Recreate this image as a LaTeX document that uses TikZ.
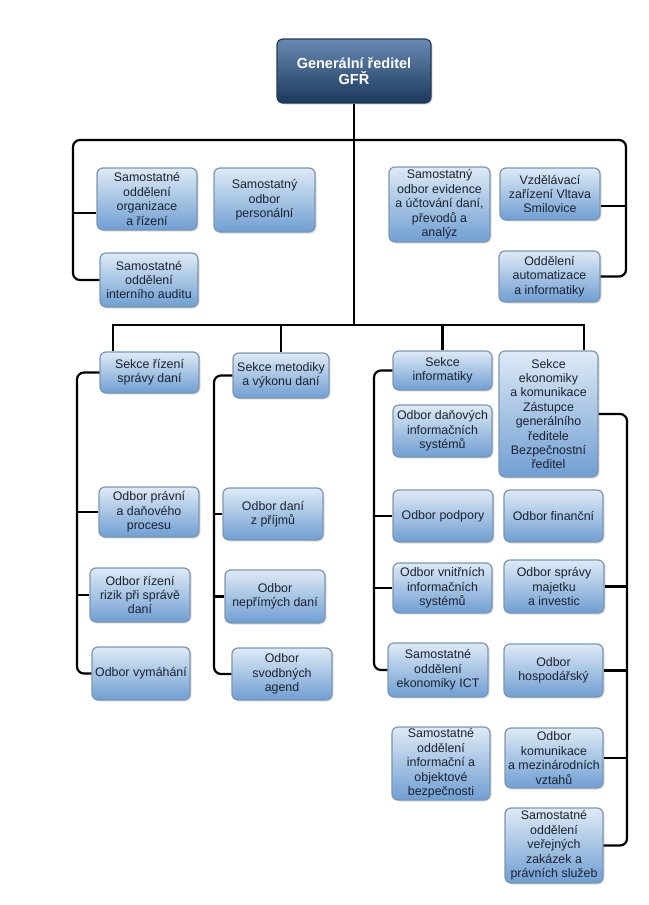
\documentclass[tikz,border=0pt]{standalone}
\usepackage{fontspec}
\setmainfont{Liberation Sans}
\usetikzlibrary{shadows}

\definecolor{boxtop}{RGB}{222,234,246}
\definecolor{boxbot}{RGB}{112,158,210}
\definecolor{boxline}{RGB}{125,150,176}
\definecolor{boxtext}{RGB}{26,34,50}
\definecolor{headtop}{RGB}{104,138,178}
\definecolor{headbot}{RGB}{28,56,92}
\definecolor{headline}{RGB}{36,58,88}

\tikzset{every picture/.style={line width=0.75pt}}
\tikzset{
  unit/.style={draw=boxline, line width=1.2pt, rounded corners=6pt,
    top color=boxtop, bottom color=boxbot, text=boxtext, align=center,
    inner sep=1pt, font=\fontsize{12.4}{14.4}\selectfont,
    drop shadow={shadow xshift=1.5pt, shadow yshift=-1.5pt, opacity=0.25}},
  head/.style={unit, draw=headline, top color=headtop, bottom color=headbot,
    text=white, font=\fontsize{14.5}{16.5}\selectfont\bfseries},
  sz/.style 2 args={minimum width=#1pt, minimum height=#2pt},
  link/.style={draw=black, line width=2.2pt, rounded corners=7pt}
}

\begin{document}
\begin{tikzpicture}[x=1pt,y=1pt,yscale=-1,xscale=1]
\useasboundingbox (0,0) rectangle (648,905);

% Director
\node [head, sz={154}{64}] (gfr) at (354,71) {Generální ředitel\\GFŘ};

% Units under the director
\node [unit, sz={100}{62}] (org) at (147,199) {Samostatné\\oddělení\\organizace\\a řízení};
\node [unit, sz={101}{64}] (pers) at (264.5,200) {Samostatný\\odbor\\personální};
\node [unit, sz={98}{54}] (audit) at (149,280) {Samostatné\\oddělení\\interního auditu};
\node [unit, sz={101}{75}] (evid) at (439.5,204.5) {Samostatný\\odbor evidence\\a účtování daní,\\převodů a\\analýz};
\node [unit, sz={100}{52}] (vzdel) at (550,194) {Vzdělávací\\zařízení Vltava\\Smilovice};
\node [unit, sz={101}{51}] (autom) at (549.5,276.5) {Oddělení\\automatizace\\a informatiky};

% Sections
\node [unit, sz={99}{41}] (sdane) at (149.5,372.5) {Sekce řízení\\správy daní};
\node [unit, sz={96}{45}] (smet) at (281,375.5) {Sekce metodiky\\a výkonu daní};
\node [unit, sz={99}{39}] (sinf) at (442.5,370.5) {Sekce\\informatiky};
\node [unit, sz={99}{126}] (seko) at (548.5,414) {Sekce\\ekonomiky\\a komunikace\\Zástupce\\generálního\\ředitele\\Bezpečnostní\\ředitel};

% Sekce řízení správy daní
\node [unit, sz={100}{50}] (pravni) at (149,512) {Odbor právní\\a daňového\\procesu};
\node [unit, sz={100}{54}] (rizika) at (140,595) {Odbor řízení\\rizik při správě\\daní};
\node [unit, sz={98}{53}] (vymahani) at (141,673.5) {Odbor vymáhání};

% Sekce metodiky a výkonu daní
\node [unit, sz={100}{52}] (prijmy) at (273,514) {Odbor daní\\z příjmů};
\node [unit, sz={100}{53}] (neprime) at (275,596.5) {Odbor\\nepřímých daní};
\node [unit, sz={100}{52}] (agendy) at (282,674) {Odbor\\svodbných\\agend};

% Sekce informatiky
\node [unit, sz={99}{52}] (dis) at (442.5,431) {Odbor daňových\\informačních\\systémů};
\node [unit, sz={100}{52}] (podpora) at (443,516) {Odbor podpory};
\node [unit, sz={99}{50}] (vis) at (442.5,588) {Odbor vnitřních\\informačních\\systémů};
\node [unit, sz={100}{54}] (ict) at (438,670) {Samostatné\\oddělení\\ekonomiky ICT};
\node [unit, sz={98}{73}] (bezp) at (441,763.5) {Samostatné\\oddělení\\informační a\\objektové\\bezpečnosti};

% Sekce ekonomiky a komunikace
\node [unit, sz={99}{52}] (financni) at (553.5,516) {Odbor finanční};
\node [unit, sz={100}{53}] (majetek) at (554,586.5) {Odbor správy\\majetku\\a investic};
\node [unit, sz={99}{53}] (hosp) at (553.5,670.5) {Odbor\\hospodářský};
\node [unit, sz={98}{60}] (komun) at (554,758) {Odbor\\komunikace\\a mezinárodních\\vztahů};
\node [unit, sz={98}{75}] (vz) at (554,845.5) {Samostatné\\oddělení\\veřejných\\zakázek a\\právních služeb};

% Rails
\coordinate (tl) at (73,140);
\coordinate (tr) at (626,140);
\coordinate (bus) at (354,325);
\coordinate (c1) at (77,500);
\coordinate (c2) at (214,500);
\coordinate (c3) at (374,500);
\coordinate (c4) at (627,500);

% Connectors
\draw [link, rounded corners=0pt] (gfr.south) -- (bus);
\draw [link] (audit.west) -| (tl) -- (tr) |- (autom.east);
\draw [link] ([yshift=14pt]org.west) -- ([yshift=14pt]org.west -| tl);
\draw [link] ([yshift=12pt]vzdel.east) -- ([yshift=12pt]vzdel.east -| tr);

\draw [link, rounded corners=0pt] ([xshift=-36.5pt]sdane.north) |- (bus) -| ([xshift=35.5pt]seko.north);
\draw [link] (smet.north) -- (smet.north |- bus);
\draw [link] (sinf.north) -- (sinf.north |- bus);

\draw [link] (sdane.west) -| (vymahani.west -| c1) -- (vymahani.west);
\draw [link] (pravni.west) -- (pravni.west -| c1);
\draw [link] (rizika.west) -- (rizika.west -| c1);

\draw [link] (smet.west) -| (agendy.west -| c2) -- (agendy.west);
\draw [link] (prijmy.west) -- (prijmy.west -| c2);
\draw [link] (neprime.west) -- (neprime.west -| c2);

\draw [link] (sinf.west) -| (ict.west -| c3) -- (ict.west);
\draw [link] (podpora.west) -- (podpora.west -| c3);
\draw [link] (vis.west) -- (vis.west -| c3);

\draw [link] (seko.east) -| (vz.east -| c4) -- (vz.east);
\draw [link] (majetek.east) -- (majetek.east -| c4);
\draw [link] (hosp.east) -- (hosp.east -| c4);
\draw [link] (komun.east) -- (komun.east -| c4);

\end{tikzpicture}
\end{document}
